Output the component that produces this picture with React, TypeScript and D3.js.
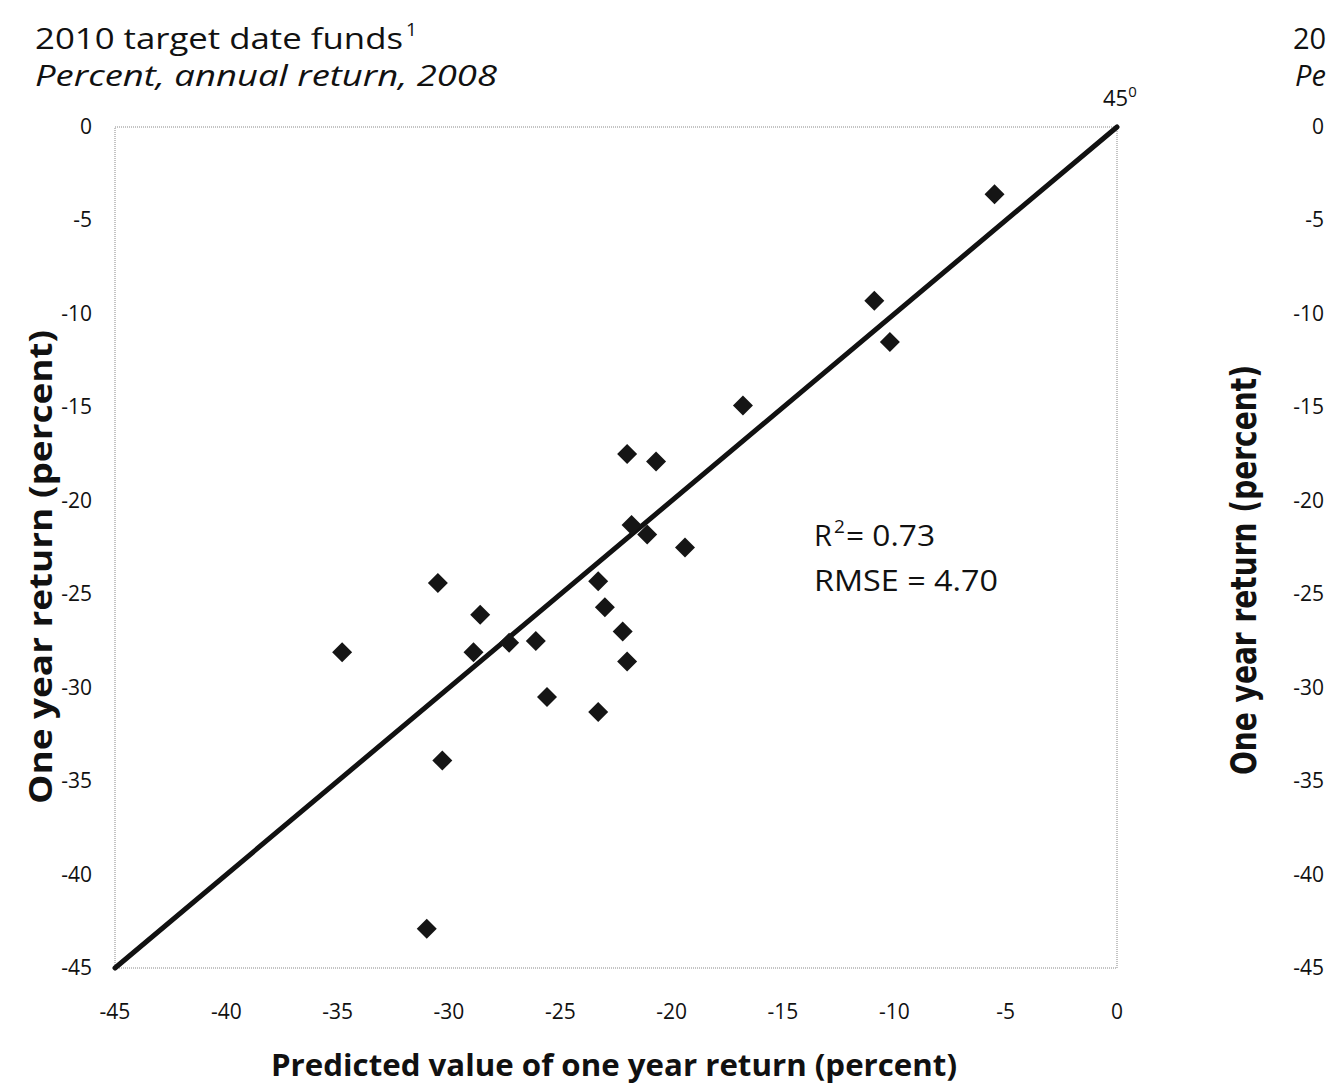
import React from 'react';
import * as d3 from 'd3';

// predicted vs actual one-year return, 2010 funds
const predicted = [-5.5, -10.9, -10.2, -16.8, -20.7, -22.0, -21.8, -21.1, -19.4, -23.3, -23.0, -22.2, -22.0, -25.6, -23.3, -30.5, -28.6, -28.9, -27.3, -26.1, -34.8, -30.3, -31.0];
const actual = [-3.6, -9.3, -11.5, -14.9, -17.9, -17.5, -21.3, -21.8, -22.5, -24.3, -25.7, -27.0, -28.6, -30.5, -31.3, -24.4, -26.1, -28.1, -27.6, -27.5, -28.1, -33.9, -42.9];
const ticks = [0, -5, -10, -15, -20, -25, -30, -35, -40, -45];
const xTicks = [-45, -40, -35, -30, -25, -20, -15, -10, -5, 0];

const W = 1329;
const H = 1089;
const FONT = '"Open Sans", "Noto Sans", sans-serif';

export default function App() {
  const x = d3.scaleLinear().domain([-45, 0]).range([115, 1117]);
  const y = d3.scaleLinear().domain([0, -45]).range([127, 968]);
  const yRight = d3.scaleLinear().domain([0, -45]).range([127, 968]);
  const diamond = d3.symbol().type(d3.symbolSquare).size(200)();
  const line = d3.line<number>().x(d => x(d)).y(d => y(d));

  return (
    <svg width={W} height={H} style={{ position: 'absolute', left: 0, top: 0, background: '#fff' }} fontFamily={FONT}>
      {/* titles */}
      <text x={35} y={49} fontSize={29} fill="#111" textLength={368} lengthAdjust="spacingAndGlyphs">2010 target date funds</text>
      <text x={406} y={36} fontSize={19} fill="#111">1</text>
      <text x={35} y={86} fontSize={29} fontStyle="italic" fill="#111" textLength={462} lengthAdjust="spacingAndGlyphs">Percent, annual return, 2008</text>

      {/* plot frame */}
      <rect x={x(-45)} y={y(0)} width={x(0) - x(-45)} height={y(-45) - y(0)} fill="none" stroke="#888" strokeDasharray="1,1" />

      {/* y ticks */}
      {ticks.map(t => (
        <text key={'y' + t} x={92} y={y(t) + 7} fontSize={21} textAnchor="end" fill="#111">{t}</text>
      ))}
      {/* x ticks */}
      {xTicks.map(t => (
        <text key={'x' + t} x={x(t)} y={1019} fontSize={21} textAnchor="middle" fill="#111">{t}</text>
      ))}

      {/* 45 degree line */}
      <path d={line([-45, 0]) || ''} stroke="#111" strokeWidth={5} strokeLinecap="round" fill="none" />
      <text x={1103} y={106} fontSize={22} fill="#111">
        45<tspan dy={-9} fontSize={15}>0</tspan>
      </text>

      {/* points */}
      {predicted.map((p, i) => (
        <path key={i} d={diamond || ''} transform={`translate(${x(p)},${y(actual[i])}) rotate(45)`} fill="#151515" />
      ))}

      {/* annotation */}
      <text x={814} y={546} fontSize={29} fill="#111">R</text>
      <text x={834} y={533} fontSize={19} fill="#111">2</text>
      <text x={846} y={546} fontSize={29} fill="#111" textLength={89} lengthAdjust="spacingAndGlyphs">= 0.73</text>
      <text x={814} y={591} fontSize={29} fill="#111" textLength={184} lengthAdjust="spacingAndGlyphs">RMSE = 4.70</text>

      {/* axis titles */}
      <text x={614} y={1076} fontSize={30} fontWeight="bold" textAnchor="middle" fill="#111" textLength={686} lengthAdjust="spacingAndGlyphs">
        Predicted value of one year return (percent)
      </text>
      <text transform={`translate(52,567) rotate(-90)`} fontSize={32} fontWeight="bold" textAnchor="middle" fill="#111" textLength={474} lengthAdjust="spacingAndGlyphs">
        One year return (percent)
      </text>

      {/* second panel, cut off at the right edge */}
      <text x={1293} y={49} fontSize={29} fill="#111">20</text>
      <text x={1295} y={86} fontSize={29} fontStyle="italic" fill="#111">Pe</text>
      {ticks.map(t => (
        <text key={'r' + t} x={1324} y={yRight(t) + 7} fontSize={21} textAnchor="end" fill="#111">{t}</text>
      ))}
      <text transform={`translate(1256,570) rotate(-90)`} fontSize={36} fontWeight="bold" textAnchor="middle"
        fontFamily='"Liberation Sans Narrow", "DejaVu Sans Condensed", sans-serif' textLength={410} lengthAdjust="spacingAndGlyphs" fill="#111">
        One year return (percent)
      </text>
    </svg>
  );
}
